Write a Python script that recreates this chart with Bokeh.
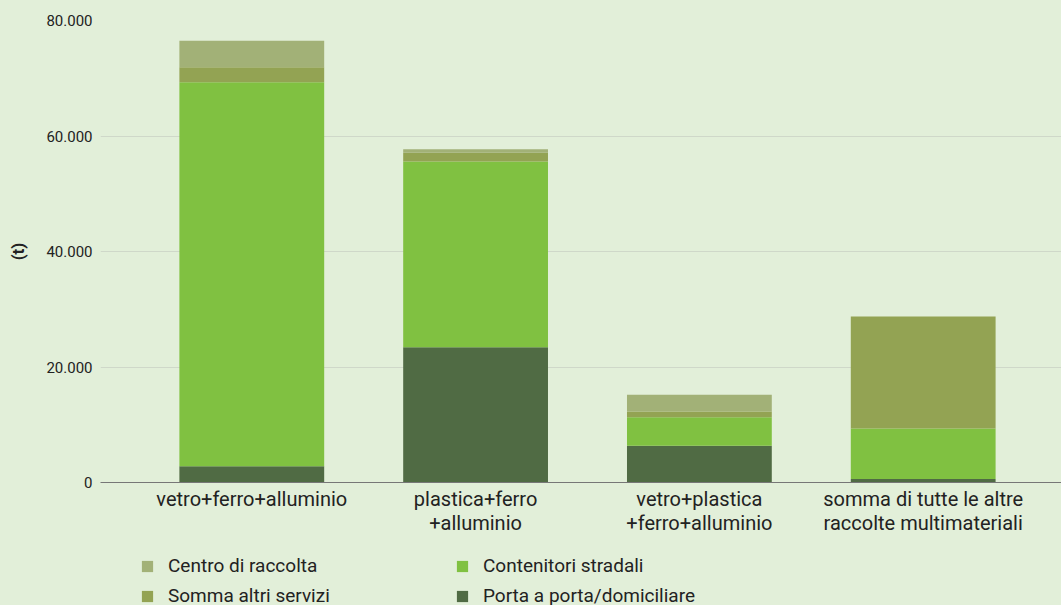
from bokeh.plotting import figure
from bokeh.layouts import column
from bokeh.models import ColumnDataSource, Range1d, FixedTicker, Legend, LegendItem
from bokeh.embed import file_html
from bokeh.resources import INLINE

categories = ["vetro+ferro+alluminio", "plastica+ferro\n+alluminio",
              "vetro+plastica\n+ferro+alluminio", "somma di tutte le altre\nraccolte multimateriali"]
porta = [2800, 23400, 6350, 600]
contenitori = [66500, 32200, 4950, 8750]
somma = [2600, 1500, 1000, 19400]
centro = [4600, 600, 2900, 0]
series_names = ["Porta a porta/domiciliare", "Contenitori stradali", "Somma altri servizi", "Centro di raccolta"]
colors = ["#506b44", "#80c141", "#93a353", "#a2b177"]
y_ticks = [0, 20000, 40000, 60000, 80000]
y_tick_labels = ["0", "20.000", "40.000", "60.000", "80.000"]

BG = "#e2efd9"
FONT = "Roboto"
TXT = "#222222"

xs = list(range(len(categories)))
src = ColumnDataSource(dict(x=xs, porta=porta, contenitori=contenitori, somma=somma, centro=centro))

p = figure(width=1061, height=545, output_backend="svg", toolbar_location=None,
           x_range=Range1d(-0.676, 3.618), y_range=Range1d(0, 80000),
           min_border_left=100, min_border_right=0, min_border_top=20, min_border_bottom=63)
p.background_fill_alpha = 0
p.border_fill_color = BG
p.outline_line_color = None

rs = p.vbar_stack(["porta", "contenitori", "somma", "centro"], x="x", width=0.647,
                  color=colors, line_color=None, source=src)

p.xgrid.grid_line_color = None
p.ygrid.grid_line_color = "#cfd8c9"
p.ygrid.ticker = FixedTicker(ticks=y_ticks)

p.yaxis.ticker = FixedTicker(ticks=y_ticks)
p.yaxis.major_label_overrides = {t: l for t, l in zip(y_ticks, y_tick_labels)}
p.yaxis.axis_line_color = None
p.yaxis.major_tick_line_color = None
p.yaxis.minor_tick_line_color = None
p.yaxis.major_label_text_font = FONT
p.yaxis.major_label_text_font_size = "15px"
p.yaxis.major_label_text_color = TXT
p.yaxis.major_label_standoff = 2
p.yaxis.axis_label = "(t)"
p.yaxis.axis_label_text_font = FONT
p.yaxis.axis_label_text_font_size = "17px"
p.yaxis.axis_label_text_font_style = "bold"
p.yaxis.axis_label_text_color = TXT
p.yaxis.axis_label_standoff = 15

p.xaxis.ticker = FixedTicker(ticks=xs)
p.xaxis.major_label_overrides = {i: c for i, c in zip(xs, categories)}
p.xaxis.axis_line_color = "#777777"
p.xaxis.major_tick_line_color = None
p.xaxis.minor_tick_line_color = None
p.xaxis.major_label_text_font = FONT
p.xaxis.major_label_text_font_size = "20px"
p.xaxis.major_label_text_line_height = 1.0
p.xaxis.major_label_text_color = TXT
p.xaxis.major_label_standoff = -2

# legend in its own strip under the chart
lg = figure(width=1061, height=60, output_backend="svg", toolbar_location=None,
            x_range=Range1d(0, 1), y_range=Range1d(0, 1), min_border=0,
            x_axis_location=None, y_axis_location=None)
lg.background_fill_alpha = 0
lg.border_fill_color = BG
lg.outline_line_color = None
lg.grid.visible = False
dummies = [lg.vbar(x=[5], top=[5], bottom=[4], width=0.1, color=c, line_color=None) for c in colors]

order = [3, 2, 1, 0]
items = [LegendItem(label=series_names[i], renderers=[dummies[i]]) for i in order]
legend = Legend(items=items, location=(40, -2), nrows=2,
                glyph_width=14, glyph_height=14, label_standoff=14, label_width=280,
                spacing=7, label_height=20, padding=0, margin=0,
                label_text_font=FONT, label_text_font_size="19px", label_text_color=TXT,
                background_fill_alpha=0, border_line_alpha=0)
lg.add_layout(legend)

layout = column(p, lg, spacing=0, styles={"background-color": BG})
open("out.html", "w").write(file_html(layout, INLINE))
